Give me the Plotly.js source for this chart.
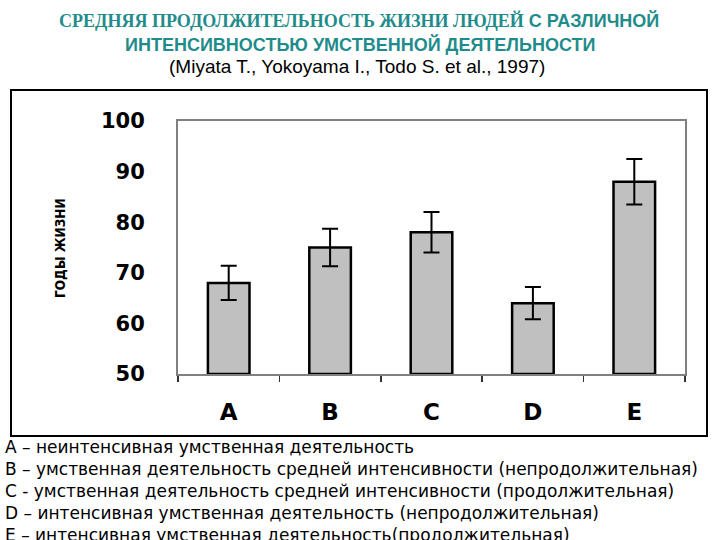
<!DOCTYPE html>
<html><head><meta charset="utf-8">
<script src="https://cdn.plot.ly/plotly-3.0.1.min.js"></script>
<style>html,body{margin:0;padding:0;background:#fff}#chart{width:720px;height:540px}</style>
</head><body><div id="chart"></div>
<script>
const categories = ["A", "B", "C", "D", "E"];
const lifeYears = [68, 75, 78, 64, 88];
const errorYears = [3.4, 3.7, 4.0, 3.2, 4.5];
const yTicks = [50, 60, 70, 80, 90, 100];
const legendLines = [
  "A – неинтенсивная умственная деятельность",
  "B – умственная деятельность средней интенсивности (непродолжительная)",
  "C - умственная деятельность средней интенсивности (продолжительная)",
  "D – интенсивная умственная деятельность (непродолжительная)",
  "E – интенсивная умственная деятельность(продолжительная)"
];
const titleLine1a = "СРЕДНЯЯ ПРОДОЛЖИТЕЛЬНОСТЬ ЖИЗНИ ЛЮДЕЙ";
const titleLine1b = " С РАЗЛИЧНОЙ";
const titleLine2 = "ИНТЕНСИВНОСТЬЮ УМСТВЕННОЙ ДЕЯТЕЛЬНОСТИ";
const titleLine3 = "(Miyata T., Yokoyama I., Todo S. et al., 1997)";
const yTitle = "ГОДЫ ЖИЗНИ";

const W = 720, H = 540;
const L = 178, R = 35, T = 121, B = 166;
const pw = W - L - R, ph = H - T - B;
const px = x => (x - L) / pw;
const py = y => (H - B - y) / ph;

const trace = {
  type: "bar",
  x: categories,
  y: lifeYears.map(v => v - 50),
  base: 50,
  width: 0.41,
  marker: {color: "#c0c0c0", line: {color: "#000", width: 2.5}},
  error_y: {type: "data", array: errorYears, color: "#000", thickness: 2, width: 8},
  hoverinfo: "skip"
};

const teal = "#1f8c8c";
const annotations = [
  {text: '<span style="font-family:\'Liberation Serif\'">' + titleLine1a + '</span><span style="font-family:\'Liberation Sans\'">' + titleLine1b + '</span>',
   x: px(359), y: py(20), xref: "paper", yref: "paper", showarrow: false, xanchor: "center", yanchor: "middle",
   font: {family: "Liberation Serif", size: 18, color: teal, weight: "bold"}},
  {text: titleLine2, x: px(360), y: py(44), xref: "paper", yref: "paper", showarrow: false, xanchor: "center", yanchor: "middle",
   font: {family: "Liberation Sans", size: 18, color: teal, weight: "bold"}},
  {text: titleLine3, x: px(357), y: py(67), xref: "paper", yref: "paper", showarrow: false, xanchor: "center", yanchor: "middle",
   font: {family: "Liberation Sans", size: 19, color: "#000"}},
  {text: yTitle, x: px(60), y: py(248), xref: "paper", yref: "paper", showarrow: false, textangle: -90,
   xanchor: "center", yanchor: "middle",
   font: {family: "DejaVu Sans Condensed", size: 13.5, color: "#000", weight: "bold"}}
];
legendLines.forEach((t, i) => {
  annotations.push({text: t, x: px(3), y: py(447 + i * 22), xref: "paper", yref: "paper", showarrow: false,
    xanchor: "left", yanchor: "middle",
    font: {family: "DejaVu Sans", size: 17, color: "#000"}});
});

const layout = {
  width: W, height: H,
  margin: {l: L, r: R, t: T, b: B, pad: 0},
  paper_bgcolor: "#fff", plot_bgcolor: "#fff",
  showlegend: false,
  bargap: 0.59,
  xaxis: {
    type: "category", tickson: "boundaries", ticks: "outside", ticklen: 6, tickwidth: 1.5, tickcolor: "#333",
    showline: true, linecolor: "#808080", linewidth: 2, mirror: true, showgrid: false,
    ticklabelstandoff: 16,
    tickfont: {family: "DejaVu Sans", size: 23, color: "#000", weight: "bold"},
    fixedrange: true
  },
  yaxis: {
    range: [50, 100], tickvals: yTicks, ticktext: yTicks.map(String),
    ticks: "", showgrid: false, zeroline: false,
    showline: true, linecolor: "#808080", linewidth: 2, mirror: true,
    ticklabelstandoff: 27,
    tickfont: {family: "DejaVu Sans", size: 21, color: "#000", weight: "bold"},
    fixedrange: true
  },
  shapes: [
    {type: "rect", xref: "paper", yref: "paper", x0: px(11), x1: px(707), y0: py(436), y1: py(90),
     line: {color: "#000", width: 2}, fillcolor: "rgba(0,0,0,0)", layer: "below"}
  ],
  annotations: annotations
};

Plotly.newPlot("chart", [trace], layout, {displayModeBar: false, staticPlot: true});
</script>
</body></html>
